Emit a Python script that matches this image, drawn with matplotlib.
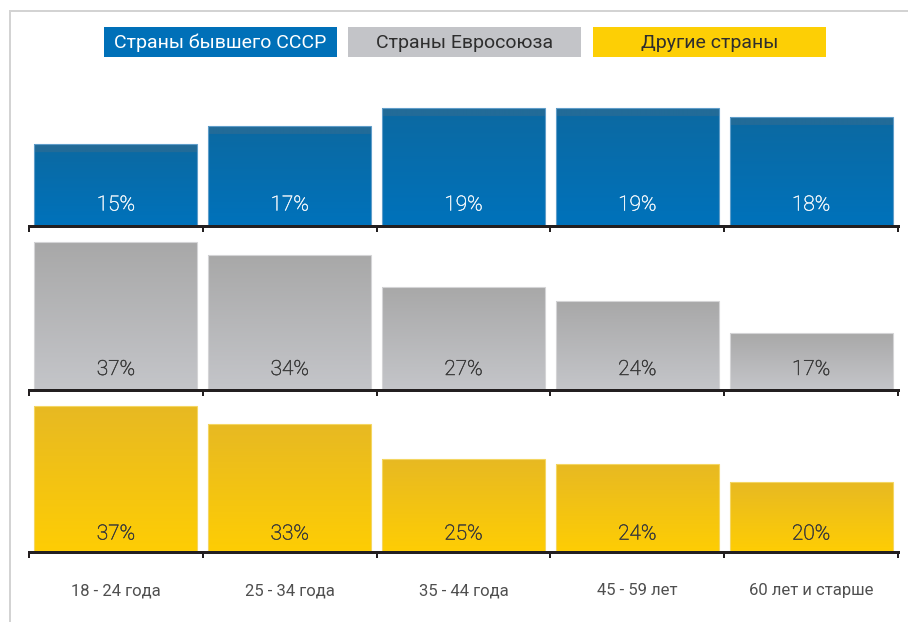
import numpy as np
import matplotlib
matplotlib.use('Agg')
import matplotlib.pyplot as plt
import matplotlib.patheffects as pe
from matplotlib.colors import to_rgb
from matplotlib.lines import Line2D
from matplotlib.patches import Rectangle

# ---- data ----
age_groups = ["18 - 24 года", "25 - 34 года", "35 - 44 года", "45 - 59 лет", "60 лет и старше"]
series_names = ["Страны бывшего СССР", "Страны Евросоюза", "Другие страны"]
ussr_values = [15, 17, 19, 19, 18]
eu_values = [37, 34, 27, 24, 17]
other_values = [37, 33, 25, 24, 20]

FONT = ['Roboto', 'DejaVu Sans']
plt.rcParams['font.family'] = FONT

W, H, DPI = 908, 622, 100
fig = plt.figure(figsize=(W / DPI, H / DPI), dpi=DPI)
fig.patch.set_facecolor('white')


def fx(px):
    return px / W


def fy(py):
    return 1 - py / H


PT = 72 / DPI  # points per pixel

# outer frame (left and top)
fig.add_artist(Line2D([fx(10), fx(10)], [fy(11), 0], color='#d3d3d3', lw=2 * PT))
fig.add_artist(Line2D([fx(10), 1], [fy(11), fy(11)], color='#d3d3d3', lw=2 * PT))

# legend boxes
legend_colors = ['#0070b8', '#c3c4c8', '#fdcf05']
legend_text_colors = ['#ffffff', '#2e2e2e', '#2e2e2e']
box_x = [104, 348, 593]
for name, c, tc, bx in zip(series_names, legend_colors, legend_text_colors, box_x):
    fig.add_artist(Rectangle((fx(bx), fy(57)), 233 / W, 30 / H, facecolor=c,
                             edgecolor='none', transform=fig.transFigure))
    fig.text(fx(bx + 116.5), fy(48.3), name, ha='center', va='baseline',
             fontsize=14, color=tc)

# per-panel value axis window (the original uses a truncated scale)
panels = [
    dict(values=ussr_values, base=225.5, ylo=6.06, yhi=23.64, top='#0c69a1', bottom='#0072bb',
         band='#226b98', edge='#5f9dc9', text='#eef5fa', loff=15),
    dict(values=eu_values, base=389.5, ylo=4.55, yhi=39.7, top='#a8a8a8', bottom='#c4c5c9',
         band=None, edge='#d4d4d6', text='#3a3a3a', loff=14.5),
    dict(values=other_values, base=551.5, ylo=4.3, yhi=40.26, top='#e7b923', bottom='#fecd04',
         band=None, edge='#f4d662', text='#3a3a3a', loff=12),
]

AX_H = 160
X0, X1 = 29, 898
BAR_W = 163 / 174

for k, p in enumerate(panels):
    ax = fig.add_axes([fx(X0), fy(p['base']), (X1 - X0) / W, AX_H / H])
    ax.patch.set_visible(False)
    for s in ['top', 'left', 'right']:
        ax.spines[s].set_visible(False)
    ax.spines['bottom'].set_linewidth(3 * PT)
    ax.spines['bottom'].set_color('#231f20')
    ax.spines['bottom'].set_zorder(5)
    ax.set_yticks([])
    ax.set_xticks(np.arange(-0.5, 5.0, 1.0))
    ax.set_xticklabels([])
    ax.tick_params(axis='x', length=6 * PT, width=2 * PT, color='#231f20', direction='out')

    bars = ax.bar(range(len(p['values'])), p['values'], width=BAR_W, color='none',
                  edgecolor=p['edge'], linewidth=0.8, zorder=3)
    top_c = np.array(to_rgb(p['top']))
    bot_c = np.array(to_rgb(p['bottom']))
    scale = AX_H / (p['yhi'] - p['ylo'])
    for bar in bars:
        h_px = (bar.get_height() - p['ylo']) * scale
        n = max(int(round(h_px)), 2)
        t = np.linspace(0, 1, n)[:, None]
        grad = top_c[None, :] * (1 - t) + bot_c[None, :] * t
        if p['band'] is not None:
            nb = min(9, n)
            grad[:nb] = np.array(to_rgb(p['band']))
        img = grad[:, None, :].repeat(2, axis=1)
        im = ax.imshow(img, extent=(bar.get_x(), bar.get_x() + bar.get_width(), p['ylo'], bar.get_height()),
                       aspect='auto', zorder=2, interpolation='bilinear', origin='upper')
        im.set_clip_path(bar)

    ax.set_xlim(-0.5, 4.5)
    ax.set_ylim(p['ylo'], p['yhi'])

    for i, v in enumerate(p['values']):
        ax.annotate(f"{v}%", xy=(i, p['ylo']), xytext=(0, p['loff'] * PT), textcoords='offset points',
                    ha='center', va='baseline', fontsize=15, color=p['text'],
                    fontweight='light', zorder=6,
                    path_effects=[pe.withStroke(linewidth=0.35, foreground=p['text'])])

    if k == len(panels) - 1:
        for i, lab in enumerate(age_groups):
            ax.annotate(lab, xy=(i, p['ylo']), xytext=(0, -43.5 * PT), textcoords='offset points',
                        ha='center', va='baseline', fontsize=12, color='#4f4f4f',
                        annotation_clip=False)

fig.savefig('out.png', dpi=DPI, facecolor='white')
